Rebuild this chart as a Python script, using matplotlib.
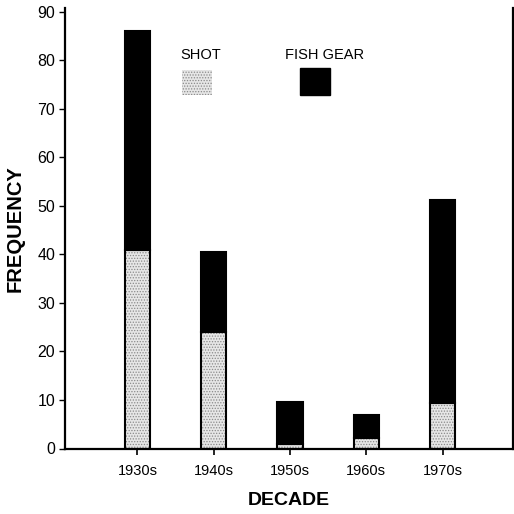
import matplotlib
matplotlib.use("Agg")
import matplotlib.pyplot as plt
from matplotlib.patches import Rectangle

DECADES = ["1930s", "1940s", "1950s", "1960s", "1970s"]
SHOT = [41, 24, 1, 2.2, 9.3]
FISH_GEAR = [45, 16.5, 8.5, 4.7, 42]  # stacked on top of shot

STIPPLE = "#e6e6e6"

plt.rcParams["font.family"] = ["Liberation Sans", "DejaVu Sans"]
plt.rcParams["hatch.linewidth"] = 0.6

fig = plt.figure(figsize=(5.14, 5.14), dpi=100)
ax = fig.add_axes([65 / 514, 65.5 / 514, (512.7 - 65) / 514, (448.5 - 8) / 514])

x = list(range(len(DECADES)))
w = 0.33
# stippled shot part
ax.bar(x, SHOT, width=w, color=STIPPLE, edgecolor="#8a8a8a", hatch="......", linewidth=0)
ax.bar(x, SHOT, width=w, fill=False, edgecolor="black", linewidth=1.5)
# fish gear part
ax.bar(x, FISH_GEAR, width=w, bottom=SHOT, color="black", edgecolor="black", linewidth=1.5)

ax.set_xlim(-0.95, 4.92)
ax.set_ylim(0, 90.8)
ax.set_yticks(range(0, 91, 10))
ax.set_xticks(x)
ax.set_xticklabels(DECADES, fontsize=10.5)
ax.tick_params(axis="y", labelsize=11.5, length=4, width=1, pad=3)
ax.tick_params(axis="x", length=4, width=1.2, pad=7)
ax.spines["top"].set_visible(False)
for s in ("left", "bottom", "right"):
    ax.spines[s].set_linewidth(1.6)

ax.set_ylabel("FREQUENCY", fontsize=14.5, fontweight="bold", labelpad=9)
ax.set_xlabel("DECADE", fontsize=14, fontweight="bold", labelpad=10)

# legend drawn as in the original, inside the plot
ax.text(0.56, 79.6, "SHOT", fontsize=10.5, ha="left", va="bottom")
ax.add_patch(Rectangle((0.59, 72.9), 0.39, 5.2, facecolor=STIPPLE, edgecolor="#8a8a8a",
                       hatch="......", linewidth=0))
ax.text(1.93, 79.6, "FISH GEAR", fontsize=10.5, ha="left", va="bottom")
ax.add_patch(Rectangle((2.13, 72.9), 0.39, 5.6, facecolor="black", edgecolor="black"))

fig.savefig("out.png", dpi=100)
